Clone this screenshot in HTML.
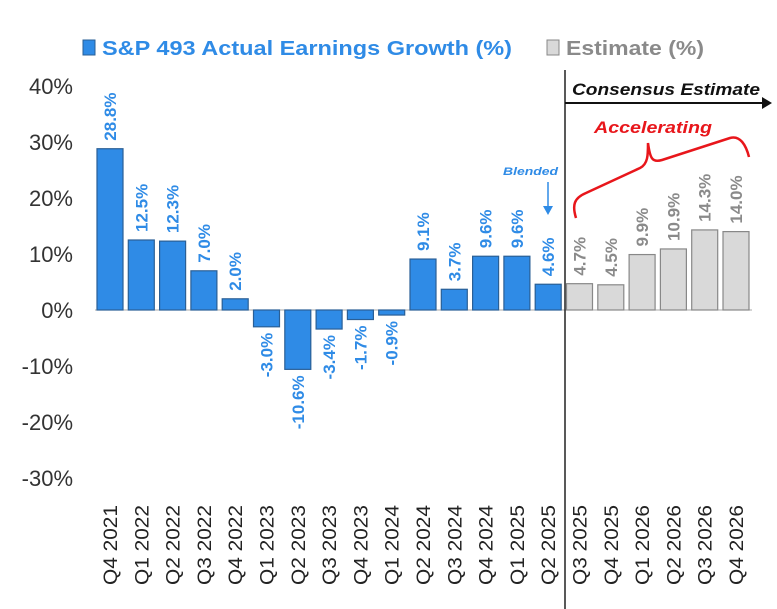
<!DOCTYPE html>
<html><head><meta charset="utf-8"><style>
body{margin:0;background:#fff;}
svg{display:block;font-family:"Liberation Sans",sans-serif;}
</style></head><body>
<svg id="chart" width="777" height="609" viewBox="0 0 777 609">
<g>
<rect x="83" y="40" width="12" height="15" fill="#2f8be6" stroke="#2a5f96"/>
<text x="102" y="55" font-size="20" font-weight="bold" fill="#2f8be6" textLength="410" lengthAdjust="spacingAndGlyphs">S&amp;P 493 Actual Earnings Growth (%)</text>
<rect x="547" y="40" width="12" height="15" fill="#d9d9d9" stroke="#888"/>
<text x="566" y="55" font-size="20" font-weight="bold" fill="#8a8a8a" textLength="138" lengthAdjust="spacingAndGlyphs">Estimate (%)</text>
</g>
<g id="yaxis"></g>
<g id="bars"></g>
<g id="xaxis"></g>
<line x1="565" y1="70" x2="565" y2="609" stroke="#222" stroke-width="1.5"/>
<line x1="565" y1="103" x2="764" y2="103" stroke="#111" stroke-width="2"/>
<path d="M762,97 L772,103 L762,109 Z" fill="#111"/>
<text x="572" y="95" font-size="17" font-weight="bold" font-style="italic" fill="#111" textLength="188" lengthAdjust="spacingAndGlyphs">Consensus Estimate</text>
<text x="594" y="133" font-size="17" font-weight="bold" font-style="italic" fill="#e8161b" textLength="118" lengthAdjust="spacingAndGlyphs">Accelerating</text>
<path d="M576,218 C572,205 574,198 586,193 L640,168 C648,164 648,155 648,143 C650,158 652,163 662,160 L730,138 C740,135 746,145 749,157" fill="none" stroke="#e8161b" stroke-width="2.5"/>
<text x="503" y="175" font-size="11" font-weight="bold" font-style="italic" fill="#2f8be6" textLength="55" lengthAdjust="spacingAndGlyphs">Blended</text>
<line x1="548" y1="182" x2="548" y2="208" stroke="#2f8be6" stroke-width="1.5"/>
<path d="M543,206 L548,215 L553,206 Z" fill="#2f8be6"/>
</svg>
<script>
const categories=["Q4 2021","Q1 2022","Q2 2022","Q3 2022","Q4 2022","Q1 2023","Q2 2023","Q3 2023","Q4 2023","Q1 2024","Q2 2024","Q3 2024","Q4 2024","Q1 2025","Q2 2025","Q3 2025","Q4 2025","Q1 2026","Q2 2026","Q3 2026","Q4 2026"];
const actualValues=[28.8,12.5,12.3,7.0,2.0,-3.0,-10.6,-3.4,-1.7,-0.9,9.1,3.7,9.6,9.6,4.6];
const estimateValues=[4.7,4.5,9.9,10.9,14.3,14.0];
const yTicks=[40,30,20,10,0,-10,-20,-30];
const NS="http://www.w3.org/2000/svg";
function y(v){return 310-v*5.6;}
function xc(i){return 110+i*31.3;}
function mk(tag,attrs,parent,txt){const e=document.createElementNS(NS,tag);for(const k in attrs)e.setAttribute(k,attrs[k]);if(txt!==undefined)e.textContent=txt;parent.appendChild(e);return e;}
const ya=document.getElementById('yaxis'),bg=document.getElementById('bars'),xa=document.getElementById('xaxis');
yTicks.forEach(t=>{
  const e=mk('text',{x:73,y:y(t)+8,'text-anchor':'end','font-size':22,fill:'#333'},ya,t+'%');
  
  
});
const zl=mk('line',{x1:95,x2:752,y1:y(0),y2:y(0),stroke:'#aaa','stroke-width':1},bg);


const all=actualValues.map(v=>({v,est:false})).concat(estimateValues.map(v=>({v,est:true})));
all.forEach((d,i)=>{
  const cx=xc(i),w=26,top=Math.min(y(d.v),y(0)),h=Math.abs(y(d.v)-y(0));
  const r=mk('rect',{x:cx-w/2,y:top,width:w,height:Math.max(h,1),fill:d.est?'#d9d9d9':'#2f8be6',stroke:d.est?'#888':'#2a5f96','stroke-width':1.2},bg);
  
  
  const lbl=d.v.toFixed(1)+'%';
  let t;
  if(d.v>=0){
    const by=y(d.v)-8;
    t=mk('text',{x:0,y:0,transform:`translate(${cx+6},${by}) rotate(-90)`,'text-anchor':'start','font-size':17,'font-weight':'bold',fill:d.est?'#8a8a8a':'#2f8be6'},bg,lbl);
  }else{
    const by=y(d.v)+6;
    t=mk('text',{x:0,y:0,transform:`translate(${cx+6},${by}) rotate(-90)`,'text-anchor':'end','font-size':17,'font-weight':'bold',fill:'#2f8be6'},bg,lbl);
  }
  
  
});
categories.forEach((c,i)=>{
  const t=mk('text',{x:0,y:0,transform:`translate(${xc(i)+7},505) rotate(-90)`,'text-anchor':'end','font-size':19,fill:'#222',textLength:80,lengthAdjust:'spacingAndGlyphs'},xa,c);
  
  
});
</script>
</body></html>
